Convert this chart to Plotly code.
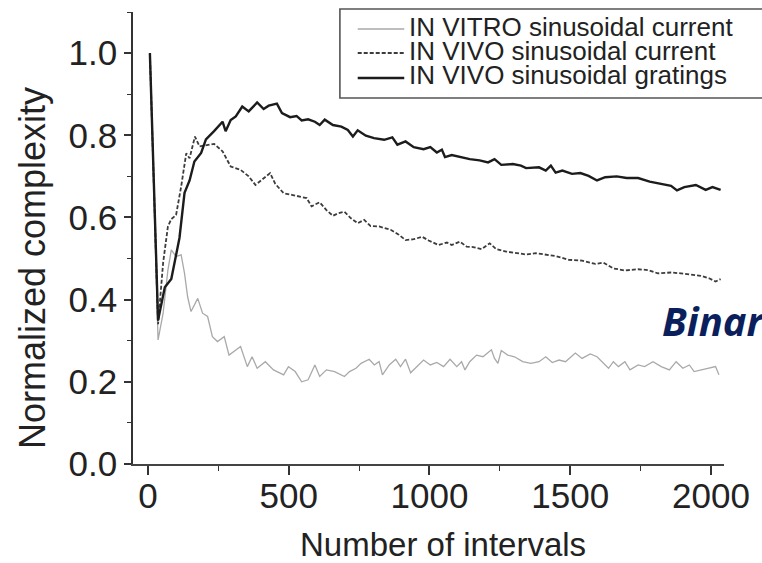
import plotly.graph_objects as go

# ---------------- data ----------------
gratings_x = [7, 36, 60, 83, 112, 130, 148, 165, 189, 206, 235, 265, 276, 294, 312, 335, 358, 388, 411, 429,
              458, 476, 505, 528, 546, 569, 593, 610, 628, 657, 687, 710, 728, 745, 774, 803, 839, 868, 886, 915,
              944, 979, 1003, 1026, 1044, 1055, 1079, 1108, 1143, 1178, 1208, 1231, 1255, 1296, 1325, 1343, 1389,
              1413, 1431, 1448, 1472, 1506, 1536, 1565, 1595, 1624, 1665, 1700, 1741, 1782, 1823, 1858, 1879,
              1905, 1946, 1981, 2005, 2034]
gratings_y = [1.0, 0.35, 0.43, 0.45, 0.55, 0.66, 0.69, 0.736, 0.757, 0.79, 0.81, 0.833, 0.81, 0.837, 0.846, 0.87,
              0.858, 0.88, 0.864, 0.872, 0.877, 0.854, 0.844, 0.847, 0.836, 0.839, 0.833, 0.825, 0.838, 0.825,
              0.821, 0.813, 0.797, 0.812, 0.799, 0.793, 0.789, 0.795, 0.777, 0.785, 0.771, 0.766, 0.771, 0.758,
              0.765, 0.747, 0.752, 0.747, 0.742, 0.739, 0.734, 0.742, 0.728, 0.73, 0.726, 0.72, 0.722, 0.714,
              0.726, 0.709, 0.714, 0.706, 0.708, 0.701, 0.69, 0.698, 0.7, 0.696, 0.696, 0.687, 0.682, 0.677,
              0.666, 0.674, 0.679, 0.667, 0.674, 0.667]

vivo_current_x = [7, 36, 54, 71, 83, 100, 118, 136, 148, 167, 183, 224, 235, 265, 294, 329, 358, 382, 405, 434,
                  452, 482, 511, 540, 564, 581, 610, 634, 657, 675, 698, 721, 745, 768, 791, 821, 862, 891, 915,
                  944, 974, 997, 1032, 1062, 1079, 1108, 1132, 1155, 1185, 1214, 1237, 1272, 1308, 1343, 1378,
                  1413, 1448, 1495, 1542, 1589, 1618, 1653, 1694, 1741, 1776, 1811, 1858, 1893, 1934, 1963, 1993,
                  2016, 2034]
vivo_current_y = [1.0, 0.34, 0.49, 0.578, 0.596, 0.606, 0.675, 0.756, 0.744, 0.797, 0.773, 0.777, 0.779, 0.761,
                  0.724, 0.716, 0.70, 0.679, 0.692, 0.708, 0.682, 0.659, 0.655, 0.651, 0.647, 0.627, 0.637, 0.618,
                  0.604, 0.61, 0.614, 0.598, 0.586, 0.594, 0.579, 0.578, 0.57, 0.558, 0.545, 0.547, 0.553, 0.544,
                  0.533, 0.539, 0.533, 0.541, 0.529, 0.528, 0.523, 0.537, 0.523, 0.517, 0.514, 0.51, 0.513, 0.509,
                  0.506, 0.497, 0.495, 0.487, 0.49, 0.476, 0.471, 0.474, 0.472, 0.464, 0.466, 0.464, 0.46, 0.458,
                  0.452, 0.444, 0.45]

vitro_current_x = [7, 36, 54, 71, 83, 100, 118, 130, 141, 153, 177, 194, 212, 229, 247, 271, 288, 312, 329, 353,
                   370, 388, 417, 446, 482, 499, 523, 546, 569, 593, 610, 634, 663, 698, 716, 739, 757, 786, 804,
                   821, 833, 857, 880, 897, 915, 933, 956, 979, 1003, 1026, 1050, 1073, 1097, 1114, 1126, 1143,
                   1167, 1190, 1220, 1231, 1243, 1255, 1278, 1302, 1331, 1360, 1389, 1413, 1436, 1460, 1483, 1518,
                   1542, 1571, 1595, 1618, 1636, 1653, 1671, 1694, 1712, 1741, 1764, 1794, 1823, 1852, 1876, 1900,
                   1923, 1940, 1963, 1993, 2016, 2028]
vitro_current_y = [1.0, 0.302, 0.367, 0.472, 0.521, 0.505, 0.509, 0.464, 0.407, 0.371, 0.403, 0.367, 0.359, 0.31,
                   0.298, 0.31, 0.265, 0.278, 0.286, 0.237, 0.261, 0.233, 0.249, 0.229, 0.217, 0.237, 0.225, 0.20,
                   0.205, 0.241, 0.213, 0.229, 0.225, 0.213, 0.225, 0.233, 0.245, 0.255, 0.241, 0.249, 0.217, 0.241,
                   0.255, 0.237, 0.255, 0.222, 0.237, 0.253, 0.241, 0.247, 0.237, 0.255, 0.237, 0.249, 0.229, 0.249,
                   0.265, 0.261, 0.278, 0.257, 0.245, 0.276, 0.265, 0.261, 0.249, 0.245, 0.249, 0.261, 0.247, 0.253,
                   0.249, 0.27, 0.257, 0.268, 0.261, 0.245, 0.233, 0.249, 0.237, 0.249, 0.229, 0.241, 0.237, 0.249,
                   0.237, 0.229, 0.249, 0.233, 0.241, 0.225, 0.229, 0.233, 0.237, 0.217]

series_names = ["IN VITRO sinusoidal current", "IN VIVO sinusoidal current", "IN VIVO sinusoidal gratings"]
x_ticks = [0, 500, 1000, 1500, 2000]
y_ticks = [0.0, 0.2, 0.4, 0.6, 0.8, 1.0]
x_title = "Number of intervals"
y_title = "Normalized complexity"
overlay_text = "Binar"

# ---------------- styles ----------------
FONT = "Liberation Sans, Arial, Helvetica, sans-serif"
vitro_style = dict(color="#a9a9a9", width=1.3)
vivo_style = dict(color="#3c3c3c", width=1.8, dash="4px,2px")
grat_style = dict(color="#1c1c1c", width=2.4)

fig = go.Figure()
fig.add_trace(go.Scatter(x=vitro_current_x, y=vitro_current_y, mode="lines", name=series_names[0],
                         line=vitro_style, showlegend=False))
fig.add_trace(go.Scatter(x=vivo_current_x, y=vivo_current_y, mode="lines", name=series_names[1],
                         line=vivo_style, showlegend=False))
fig.add_trace(go.Scatter(x=gratings_x, y=gratings_y, mode="lines", name=series_names[2],
                         line=grat_style, showlegend=False))

W, H = 762, 563
L, T = 133, 12
pw, ph = 597, 452
R, B = W - L - pw, H - T - ph


def px(sx):  # screen x -> paper
    return (sx - L) / pw


def py(sy):  # screen y -> paper
    return (T + ph - sy) / ph


fig.update_layout(
    width=W, height=H,
    margin=dict(l=L, r=R, t=T, b=B),
    paper_bgcolor="white", plot_bgcolor="white",
    font=dict(family=FONT, color="#222222"),
    showlegend=False,
)

fig.update_xaxes(
    range=[-53, 2046], tickvals=x_ticks, ticktext=[str(v) for v in x_ticks],
    showgrid=False, zeroline=False, showline=True, linecolor="#444444", linewidth=1.6,
    ticks="outside", ticklen=9, tickwidth=1.5, tickcolor="#333333", ticklabelstandoff=-9,
    minor=dict(dtick=250, tick0=0, ticks="outside", ticklen=5, tickwidth=1.2, tickcolor="#333333"),
    tickfont=dict(family=FONT, size=35, color="#222222"),
)
fig.update_yaxes(
    range=[0, 1.1], tickvals=y_ticks, ticktext=["%.1f" % v for v in y_ticks],
    showgrid=False, zeroline=False, showline=True, linecolor="#333333", linewidth=1.8,
    ticks="outside", ticklen=7, tickwidth=1.5, tickcolor="#333333",
    minor=dict(dtick=0.1, tick0=0, ticks="outside", ticklen=4, tickwidth=1.2, tickcolor="#333333"),
    tickfont=dict(family=FONT, size=35, color="#222222"),
)

annotations = [
    dict(text=x_title, xref="paper", yref="paper", x=px(446), y=py(544), xanchor="center", yanchor="middle",
         showarrow=False, borderpad=0, font=dict(family=FONT, size=33, color="#222222")),
    dict(text=y_title, xref="paper", yref="paper", x=px(31), y=py(268), xanchor="center", yanchor="middle",
         textangle=-90, showarrow=False, font=dict(family=FONT, size=36, color="#222222")),
    dict(text="<b><i>" + overlay_text + "</i></b>", xref="paper", yref="paper", x=px(665), y=py(320),
         xanchor="left", yanchor="middle", showarrow=False,
         font=dict(family="Open Sans, Noto Sans, sans-serif", size=40, color="#0b1f5c")),
]

# hand-drawn legend (box, sample lines, labels)
legend_rows = [27, 51, 75]
sample_rows = [29, 53, 78]
styles = [vitro_style, vivo_style, grat_style]
shapes = [dict(type="rect", xref="paper", yref="paper", x0=px(342), x1=px(800), y0=py(98), y1=py(9),
               line=dict(color="#555555", width=1.6), fillcolor="white", layer="above")]
for name, ty, sy, st in zip(series_names, legend_rows, sample_rows, styles):
    annotations.append(dict(text=name, xref="paper", yref="paper", x=px(411), y=py(ty), xanchor="left",
                            yanchor="middle", showarrow=False, borderpad=0,
                            font=dict(family=FONT, size=26, color="#222222")))
    shapes.append(dict(type="line", xref="paper", yref="paper", x0=px(360), x1=px(407), y0=py(sy), y1=py(sy),
                       line=st, layer="above"))

fig.update_layout(annotations=annotations, shapes=shapes)
fig.write_html("out.html",
               config={"displayModeBar": False},
               post_script="document.body.style.margin='0';document.body.style.overflow='hidden';")
